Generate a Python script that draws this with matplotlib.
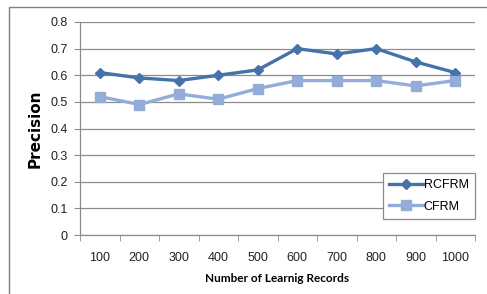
import matplotlib.pyplot as plt
from matplotlib.patches import Rectangle
import numpy as np

# data
records = ['100', '200', '300', '400', '500', '600', '700', '800', '900', '1000']
rcfrm = [0.61, 0.59, 0.58, 0.60, 0.62, 0.70, 0.68, 0.70, 0.65, 0.61]
cfrm = [0.52, 0.49, 0.53, 0.51, 0.55, 0.58, 0.58, 0.58, 0.56, 0.58]
yticks = [0, 0.1, 0.2, 0.3, 0.4, 0.5, 0.6, 0.7, 0.8]
ytick_labels = ['0', '0.1', '0.2', '0.3', '0.4', '0.5', '0.6', '0.7', '0.8']

dark = '#4672AA'
light = '#93ADD8'
grey = '#8c8c8c'

fig = plt.figure(figsize=(4.87, 2.94), dpi=100)
ax = fig.add_axes([80/487, 1-235/294, 395/487, 213/294])

# outer chart border (only left/top visible in the reference)
fig.patches.append(Rectangle((9/487, -0.2), 1.2, 1.2 - 7/294, transform=fig.transFigure,
                             fill=False, edgecolor='#7f7f7f', lw=1.0))

x = np.arange(len(records))
ax.plot(x, rcfrm, color=dark, lw=2.4, marker='D', ms=5.5, label='RCFRM', zorder=3)
ax.plot(x, cfrm, color=light, lw=2.4, marker='s', ms=7, label='CFRM', zorder=3)

ax.set_xlim(-0.5, len(records) - 0.5)
ax.set_ylim(0, 0.8)
ax.set_yticks(yticks)
ax.set_yticklabels(ytick_labels, fontsize=9, family='Liberation Sans', color='#222222')
ax.set_xticks(x)
ax.set_xticklabels(records, fontsize=9, family='Liberation Sans', color='#222222')
ax.set_xticks(np.arange(-0.5, len(records)), minor=True)
ax.tick_params(axis='x', which='major', length=0, pad=12)
ax.tick_params(axis='x', which='minor', length=4, color=grey, direction='out')
ax.tick_params(axis='y', length=4, color=grey, pad=5)

ax.yaxis.grid(True, color=grey, lw=0.9)
ax.set_axisbelow(True)
for s in ['top', 'right']:
    ax.spines[s].set_visible(False)
for s in ['left', 'bottom']:
    ax.spines[s].set_color(grey)
    ax.spines[s].set_linewidth(0.9)

ax.set_ylabel('Precision', fontsize=11, fontweight='bold')
ax.yaxis.set_label_coords(-37/395, 0.5)
ax.set_xlabel('Number of Learnig Records', fontsize=8.5, fontweight='bold',
              family='Lato', labelpad=7)

leg = ax.legend(loc='lower right', bbox_to_anchor=(1.0, 0.075),
                prop={'family': 'Liberation Sans', 'size': 9},
                fancybox=False, edgecolor=grey, framealpha=1,
                handlelength=2.7, borderpad=0.5, labelspacing=0.75,
                handletextpad=0.05, borderaxespad=0.0)
leg.get_frame().set_linewidth(0.9)

fig.savefig('out.png', dpi=100)
